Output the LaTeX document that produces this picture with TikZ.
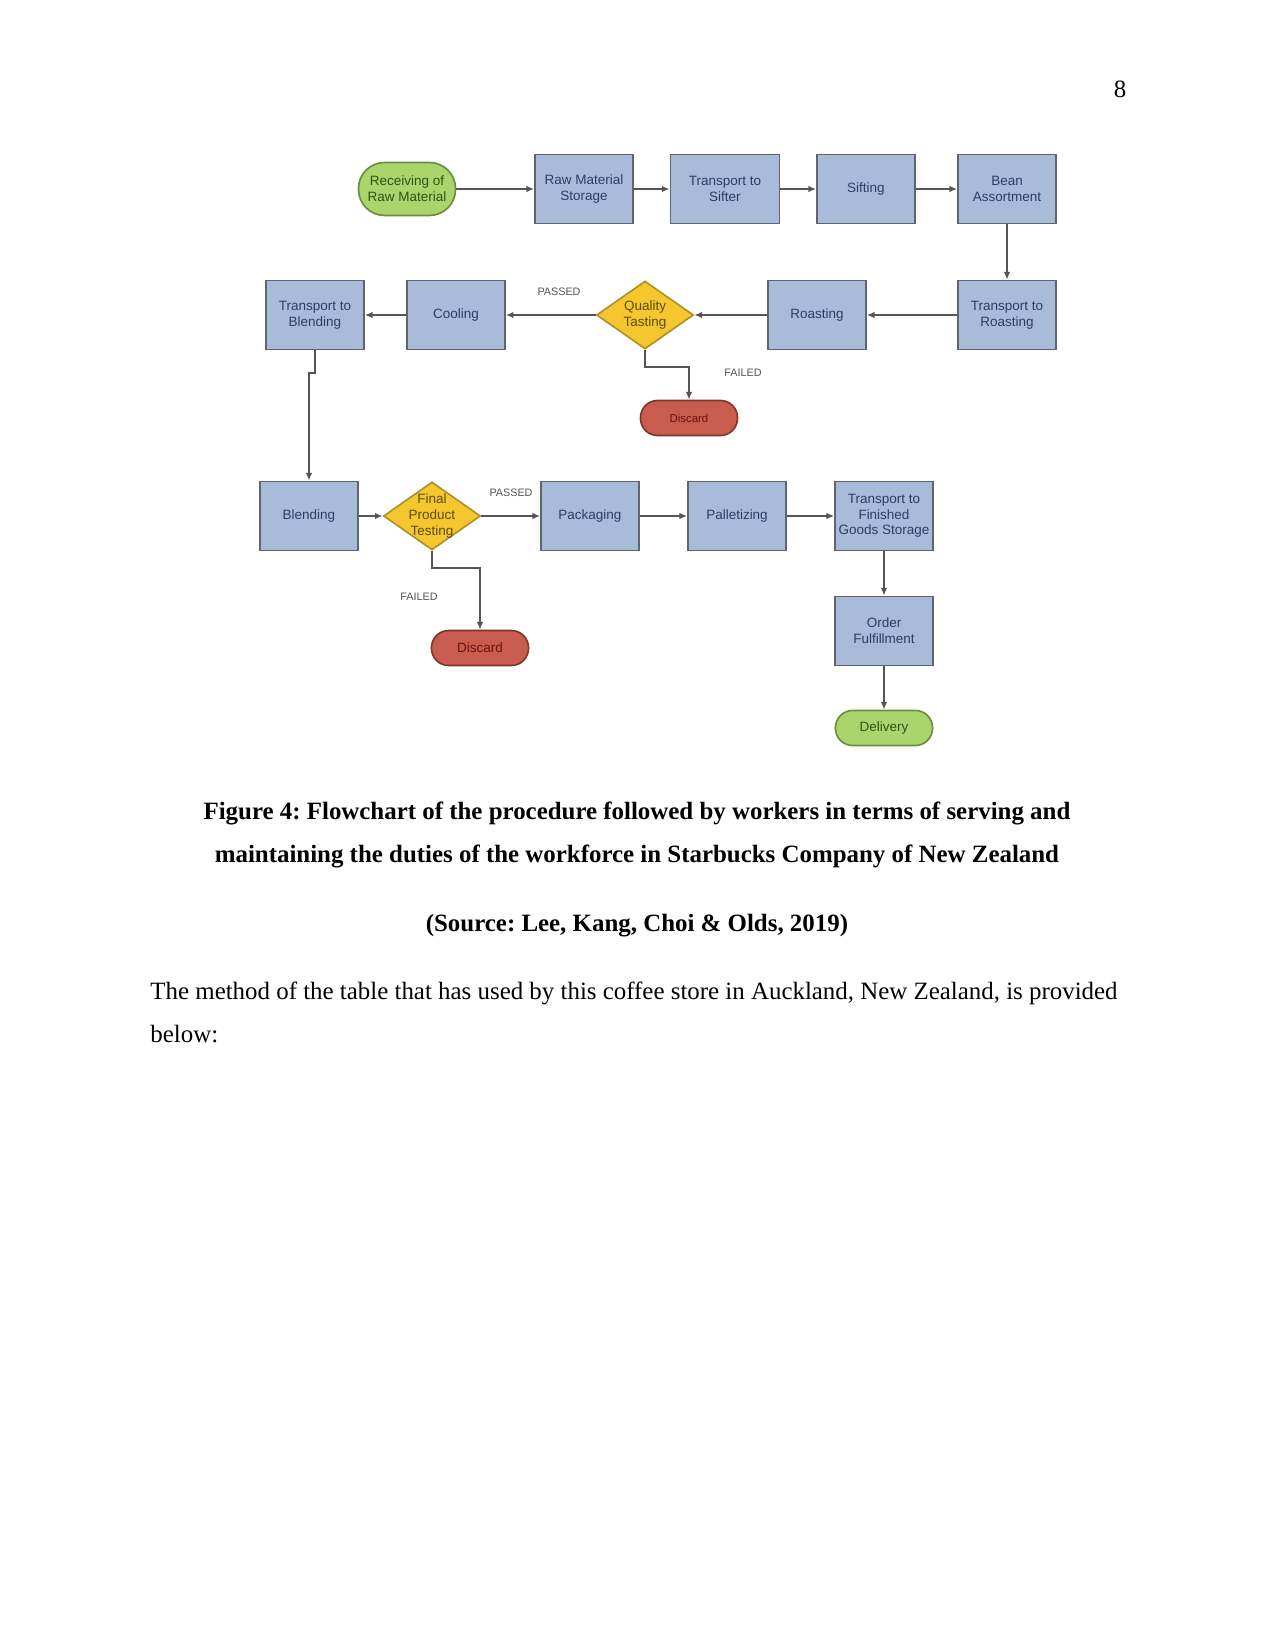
\documentclass[tikz,border=0pt]{standalone}
\usepackage{fontspec}
\setmainfont{Liberation Serif}
\newfontfamily\chartfont{Liberation Sans}
\usetikzlibrary{shapes.geometric,arrows.meta}
\frenchspacing

\definecolor{boxfill}{RGB}{168,187,217}
\definecolor{boxline}{RGB}{95,100,110}
\definecolor{boxink}{RGB}{45,62,100}
\definecolor{greenfill}{RGB}{170,213,108}
\definecolor{greenline}{RGB}{105,145,60}
\definecolor{greenink}{RGB}{45,85,20}
\definecolor{goldfill}{RGB}{245,198,45}
\definecolor{goldline}{RGB}{175,145,40}
\definecolor{goldink}{RGB}{95,75,15}
\definecolor{redfill}{RGB}{200,92,78}
\definecolor{redline}{RGB}{130,55,45}
\definecolor{redink}{RGB}{105,20,15}
\definecolor{flowline}{RGB}{85,85,85}
\definecolor{labelgray}{RGB}{85,85,85}

\tikzset{
	procbox/.style={shape=rectangle, draw=boxline, fill=boxfill, line width=0.8pt, minimum width=1.66cm, minimum height=1.17cm, inner sep=0pt},
	termgreen/.style={shape=rectangle, rounded corners=0.29cm, draw=greenline, fill=greenfill, line width=0.8pt, minimum width=1.643cm, minimum height=0.593cm, inner sep=0pt},
	termred/.style={shape=rectangle, rounded corners=0.29cm, draw=redline, fill=redfill, line width=0.8pt, minimum width=1.643cm, minimum height=0.593cm, inner sep=0pt},
	decision/.style={shape=diamond, draw=goldline, fill=goldfill, line width=0.8pt, minimum width=1.643cm, minimum height=1.151cm, inner sep=0pt},
	boxtext/.style={anchor=center, align=center, font=\chartfont\fontsize{6.5}{7.6}\selectfont, text=boxink, inner sep=0pt},
	flow/.style={draw=flowline, line width=0.8pt, -{Latex[length=1.3mm,width=1.1mm]}},
	flowlabel/.style={font=\chartfont\fontsize{5.2}{6}\selectfont, text=labelgray, inner sep=0pt},
	pagetext/.style={font=\fontsize{12}{20.6}\selectfont, inner sep=0pt},
}

\begin{document}
\begin{tikzpicture}
	\useasboundingbox[fill=white] (0,0) rectangle (21.59,-27.957);
	% Row 1:
	\node[termgreen, minimum height=0.897cm, rounded corners=0.44cm] (recv) at (6.892, -3.200){} node[boxtext, text=greenink] at (6.892, -3.200){Receiving of\\Raw Material};
	\node[procbox] (rawstore) at (9.889, -3.200){} node[boxtext] at (9.889, -3.200){Raw Material\\Storage};
	\node[procbox, minimum width=1.846cm] (tosifter) at (12.276, -3.200){} node[boxtext] at (12.276, -3.200){Transport to\\Sifter};
	\node[procbox] (sifting) at (14.664, -3.200){} node[boxtext] at (14.664, -3.200){Sifting};
	\node[procbox] (bean) at (17.052, -3.200){} node[boxtext] at (17.052, -3.200){Bean\\Assortment};
	% Row 2:
	\node[procbox] (toroast) at (17.052, -5.334){} node[boxtext] at (17.052, -5.334){Transport to\\Roasting};
	\node[procbox] (roasting) at (13.834, -5.334){} node[boxtext] at (13.834, -5.334){Roasting};
	\node[decision] (quality) at (10.922, -5.334){} node[boxtext, text=goldink] at (10.922, -5.334){Quality\\Tasting};
	\node[procbox] (cooling) at (7.721, -5.334){} node[boxtext] at (7.721, -5.334){Cooling};
	\node[procbox] (toblend) at (5.334, -5.334){} node[boxtext] at (5.334, -5.334){Transport to\\Blending};
	\node[termred] (discardA) at (11.667, -7.078){} node[boxtext, text=redink, font=\chartfont\fontsize{5.5}{6.5}\selectfont] at (11.667, -7.078){Discard};
	% Row 3:
	\node[procbox] (blending) at (5.232, -8.737){} node[boxtext] at (5.232, -8.737){Blending};
	\node[decision] (final) at (7.315, -8.737){} node[boxtext, text=goldink] at (7.315, -8.737){Final\\Product\\Testing};
	\node[procbox] (packaging) at (9.990, -8.737){} node[boxtext] at (9.990, -8.737){Packaging};
	\node[procbox] (pallet) at (12.480, -8.737){} node[boxtext] at (12.480, -8.737){Palletizing};
	\node[procbox] (tofinished) at (14.969, -8.737){} node[boxtext] at (14.969, -8.737){Transport to\\Finished\\Goods Storage};
	\node[termred] (discardB) at (8.128, -10.973){} node[boxtext, text=redink] at (8.128, -10.973){Discard};
	\node[procbox] (order) at (14.969, -10.685){} node[boxtext] at (14.969, -10.685){Order\\Fulfillment};
	\node[termgreen] (delivery) at (14.969, -12.327){} node[boxtext, text=greenink] at (14.969, -12.327){Delivery};
	% Branch labels:
	\node[flowlabel] (passA) at (9.466, -4.944){PASSED};
	\node[flowlabel] (failA) at (12.581, -6.316){FAILED};
	\node[flowlabel] (passB) at (8.653, -8.348){PASSED};
	\node[flowlabel] (failB) at (7.095, -10.109){FAILED};
	\coordinate (failAturn) at (10.922, -6.214);
	\coordinate (toblendjog) at (5.334, -6.316);
	\coordinate (failBturn) at (7.315, -9.618);
	% Wires:
	\draw[flow] (recv) -- (rawstore);
	\draw[flow] (rawstore) -- (tosifter);
	\draw[flow] (tosifter) -- (sifting);
	\draw[flow] (sifting) -- (bean);
	\draw[flow] (bean) -- (toroast);
	\draw[flow] (toroast) -- (roasting);
	\draw[flow] (roasting) -- (quality);
	\draw[flow] (quality) -- (cooling);
	\draw[flow] (cooling) -- (toblend);
	\draw[flow] (quality.south) -- (failAturn) -| (discardA.north);
	\draw[flow] (toblend.south) -- (toblendjog) -| (blending.north);
	\draw[flow] (blending) -- (final);
	\draw[flow] (final) -- (packaging);
	\draw[flow] (final.south) -- (failBturn) -| (discardB.north);
	\draw[flow] (packaging) -- (pallet);
	\draw[flow] (pallet) -- (tofinished);
	\draw[flow] (tofinished) -- (order);
	\draw[flow] (order) -- (delivery);
	% Page text:
	\node[pagetext, anchor=base] (pagenum) at (18.965, -1.659){8};
	\node[pagetext, anchor=base, font=\bfseries\fontsize{12}{20.6}\selectfont] (capA) at (10.786, -13.885){Figure 4: Flowchart of the procedure followed by workers in terms of serving and};
	\node[pagetext, anchor=base, font=\bfseries\fontsize{12}{20.6}\selectfont] (capB) at (10.786, -14.613){maintaining the duties of the workforce in Starbucks Company of New Zealand};
	\node[pagetext, anchor=base, font=\bfseries\fontsize{12}{20.6}\selectfont] (source) at (10.786, -15.765){(Source: Lee, Kang, Choi \& Olds, 2019)};
	\node[pagetext, anchor=base west] (bodyA) at (2.54, -16.933){The method of the table that has used by this coffee store in Auckland, New Zealand, is provided};
	\node[pagetext, anchor=base west] (bodyB) at (2.54, -17.661){below:};
\end{tikzpicture}
\end{document}
